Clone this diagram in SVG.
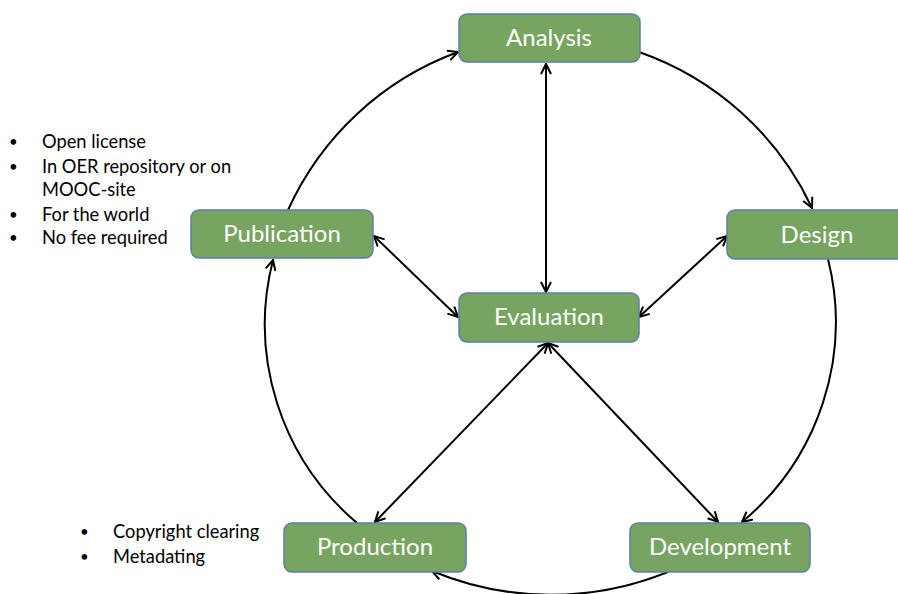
<svg xmlns="http://www.w3.org/2000/svg" width="898" height="594" viewBox="0 0 898 594">
<style>
.box{fill:#77A460;stroke:#5B80A5;stroke-width:1.5}
.lbl{font-family:Lato,"Open Sans","Liberation Sans",sans-serif;font-size:24px;fill:#ffffff;text-anchor:middle}
.note{font-family:Lato,"Open Sans","Liberation Sans",sans-serif;font-size:18.3px;fill:#000000}
.blt{font-family:Lato,"Open Sans","Liberation Sans",sans-serif;font-size:15px;fill:#000000}
.con{fill:none;stroke:#000000;stroke-width:2}
</style>
<defs>
<marker id="ah" viewBox="0 0 12 12" markerWidth="12" markerHeight="12" refX="11" refY="6" orient="auto-start-reverse" markerUnits="userSpaceOnUse">
<path d="M1,1 L11,6 L1,11" fill="none" stroke="#000000" stroke-width="2"/>
</marker>
</defs>
<rect width="898" height="594" fill="#ffffff"/>
<g id="connectors">
<path class="con" d="M288,210 A300,300 0 0,1 458,52" marker-end="url(#ah)"/>
<path class="con" d="M639,52 A300,300 0 0,1 812,208" marker-end="url(#ah)"/>
<path class="con" d="M828,259 A260,260 0 0,1 742,522" marker-end="url(#ah)"/>
<path class="con" d="M668,572 A310,310 0 0,1 432,571" marker-end="url(#ah)"/>
<path class="con" d="M357,523 A260,260 0 0,1 273,260" marker-end="url(#ah)"/>
<path class="con" d="M546,64 L546,292" marker-start="url(#ah)" marker-end="url(#ah)"/>
<path class="con" d="M374,236 L458,317" marker-start="url(#ah)" marker-end="url(#ah)"/>
<path class="con" d="M727,236 L639,317" marker-start="url(#ah)" marker-end="url(#ah)"/>
<path class="con" d="M548,343 L375,522" marker-start="url(#ah)" marker-end="url(#ah)"/>
<path class="con" d="M548,343 L718,522" marker-start="url(#ah)" marker-end="url(#ah)"/>
</g>
<g id="analysis"><rect class="box" x="459" y="14" width="181" height="48" rx="8"/><text class="lbl" x="549" y="46">Analysis</text></g>
<g id="publication"><rect class="box" x="191" y="210" width="182" height="48" rx="8"/><text class="lbl" x="282" y="242">Publication</text></g>
<g id="design"><rect class="box" x="727" y="210" width="181" height="49" rx="8"/><text class="lbl" x="817" y="243">Design</text></g>
<g id="evaluation"><rect class="box" x="459" y="293" width="180" height="49" rx="8"/><text class="lbl" x="549" y="325">Evaluation</text></g>
<g id="production"><rect class="box" x="284" y="523" width="182" height="49" rx="8"/><text class="lbl" x="375" y="555">Production</text></g>
<g id="development"><rect class="box" x="630" y="523" width="180" height="49" rx="8"/><text class="lbl" x="720" y="555">Development</text></g>
<g id="publication-notes">
<text class="blt" x="9" y="147">•</text><text class="note" x="42" y="148">Open license</text>
<text class="blt" x="9" y="172">•</text><text class="note" x="42" y="173">In OER repository or on</text>
<text class="note" x="42" y="196">MOOC-site</text>
<text class="blt" x="9" y="220">•</text><text class="note" x="42" y="221">For the world</text>
<text class="blt" x="9" y="243">•</text><text class="note" x="42" y="244">No fee required</text>
</g>
<g id="production-notes">
<text class="blt" x="80" y="537">•</text><text class="note" x="113" y="538">Copyright clearing</text>
<text class="blt" x="80" y="562">•</text><text class="note" x="113" y="563">Metadating</text>
</g>
</svg>
